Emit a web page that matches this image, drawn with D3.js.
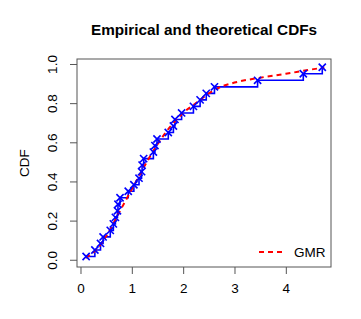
<!DOCTYPE html>
<html>
<head>
<meta charset="utf-8">
<script src="https://cdn.jsdelivr.net/npm/d3@7"></script>
<style>
  body { margin: 0; background: #fff; }
  text { font-family: "Liberation Sans", Arial, sans-serif; fill: #000; }
</style>
</head>
<body>
<svg id="chart" width="361" height="319"></svg>
<script>
var obsX = [0.11, 0.28, 0.39, 0.44, 0.58, 0.64, 0.68, 0.72, 0.73, 0.77,
            0.93, 1.04, 1.14, 1.19, 1.20, 1.23, 1.42, 1.45, 1.49, 1.71,
            1.81, 1.84, 1.97, 2.20, 2.33, 2.45, 2.61, 3.45, 4.34, 4.71];

// fitted GMR cdf
var fitX = [0.10, 0.30, 0.50, 0.75, 1.00, 1.25, 1.50, 1.75, 2.00, 2.25,
            2.50, 2.75, 3.00, 3.50, 4.00, 4.50, 4.75];
var fitY = [0.01, 0.05, 0.12, 0.24, 0.36, 0.48, 0.59, 0.68, 0.75, 0.80,
            0.85, 0.885, 0.905, 0.93, 0.95, 0.972, 0.982];

var xTicks = [0, 1, 2, 3, 4];
var yTicks = [0, 0.2, 0.4, 0.6, 0.8, 1.0];
var legendLabels = ["GMR"];

var svg = d3.select("#chart");
var n = obsX.length;
var obs = obsX.map((x, i) => ({x: x, p: (i + 0.5) / n}));
var fit = fitX.map((x, i) => ({x: x, y: fitY[i]}));

var x = d3.scaleLinear().domain([-0.068, 4.88]).range([77, 331]);
var y = d3.scaleLinear().domain([-0.037, 1.0255]).range([267, 59]);

// title
svg.append("text")
   .attr("x", (x.range()[0] + x.range()[1]) / 2)
   .attr("y", 35)
   .attr("text-anchor", "middle")
   .style("font-weight", "bold")
   .style("font-size", "15.3px")
   .text("Empirical and theoretical CDFs");

// empirical step function
var stepPath = d3.path();
obs.forEach((d, i) => {
  if (i === 0) stepPath.moveTo(x(d.x), y(d.p));
  else {
    stepPath.lineTo(x(d.x), y(obs[i - 1].p));
    stepPath.lineTo(x(d.x), y(d.p));
  }
});
svg.append("path")
   .attr("d", stepPath.toString())
   .attr("fill", "none")
   .attr("stroke", "#0000ff")
   .attr("stroke-width", 1.6);

// fitted curve
var line = d3.line()
             .x(d => x(d.x))
             .y(d => y(d.y))
             .curve(d3.curveMonotoneX);
svg.append("path")
   .datum(fit)
   .attr("d", line)
   .attr("fill", "none")
   .attr("stroke", "#ff0000")
   .attr("stroke-width", 2)
   .attr("stroke-dasharray", "5,4");

// X markers
var s = 3.6;
svg.append("g")
   .selectAll("path")
   .data(obs)
   .enter().append("path")
   .attr("d", d => {
     var cx = x(d.x), cy = y(d.p);
     return `M${cx - s},${cy - s}L${cx + s},${cy + s}M${cx - s},${cy + s}L${cx + s},${cy - s}`;
   })
   .attr("stroke", "#0000ff")
   .attr("stroke-width", 1.6);

// box
svg.append("rect")
   .attr("x", x.range()[0])
   .attr("y", y.range()[1])
   .attr("width", x.range()[1] - x.range()[0])
   .attr("height", y.range()[0] - y.range()[1])
   .attr("fill", "none")
   .attr("stroke", "#555")
   .attr("stroke-width", 1);

// x axis
var xAxis = svg.append("g")
   .attr("transform", `translate(0,${y.range()[0]})`)
   .call(d3.axisBottom(x).tickValues(xTicks).tickSize(7).tickPadding(9).tickFormat(d3.format("d")));
xAxis.select(".domain").remove();
xAxis.selectAll("line").attr("stroke", "#555");
xAxis.selectAll("text").style("font-size", "13.5px").style("font-family", "Liberation Sans, Arial, sans-serif");

// y axis
var yAxis = svg.append("g")
   .attr("transform", `translate(${x.range()[0]},0)`)
   .call(d3.axisLeft(y).tickValues(yTicks).tickSize(7).tickFormat(d3.format(".1f")));
yAxis.select(".domain").remove();
yAxis.selectAll("line").attr("stroke", "#555");
yAxis.selectAll("text")
     .style("font-size", "13.5px")
     .style("font-family", "Liberation Sans, Arial, sans-serif")
     .attr("x", null).attr("dy", null)
     .attr("text-anchor", "middle")
     .attr("transform", "translate(-25,0) rotate(-90)")
     .attr("dy", "0.35em");

svg.append("text")
   .attr("transform", `translate(24,${(y.range()[0] + y.range()[1]) / 2}) rotate(-90)`)
   .attr("text-anchor", "middle")
   .attr("dy", "0.35em")
   .style("font-size", "13.5px")
   .text("CDF");

// legend
var leg = svg.append("g");
leg.append("line")
   .attr("x1", 259).attr("x2", 284)
   .attr("y1", 252).attr("y2", 252)
   .attr("stroke", "#ff0000")
   .attr("stroke-width", 2)
   .attr("stroke-dasharray", "5,4");
leg.append("text")
   .attr("x", 294).attr("y", 252)
   .attr("dy", "0.35em")
   .style("font-size", "13.5px")
   .text(legendLabels[0]);
</script>
</body>
</html>
